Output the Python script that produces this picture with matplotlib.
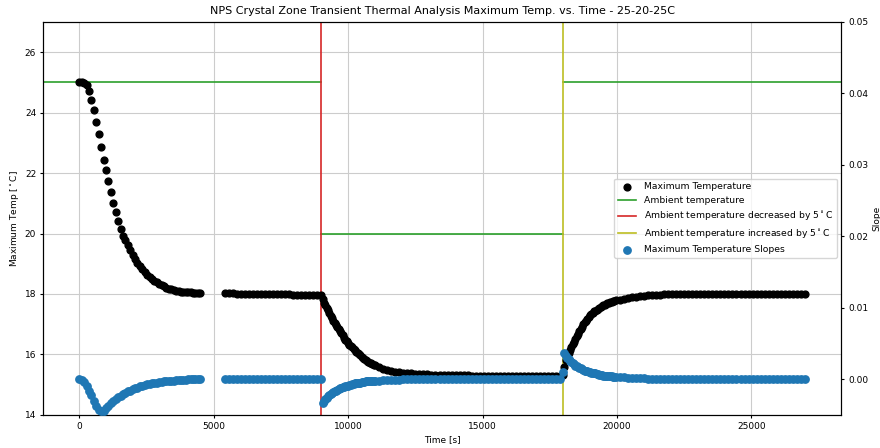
import numpy as np
import matplotlib
matplotlib.use("Agg")
import matplotlib.pyplot as plt

# time grids [s] for each stretch of the simulation output
t_a = np.arange(0, 4501, 90)
t_b1 = np.arange(5400, 9001, 150)
t_b2 = np.arange(9050, 11001, 50)
t_b3 = np.arange(11150, 17901, 150)
t_b4 = np.arange(18000, 19951, 50)
t_b5 = np.arange(20100, 27001, 150)

# maximum temperature [C]
temp_a = [25.00, 25.00, 24.99, 24.93, 24.71, 24.42, 24.08, 23.70, 23.29, 22.87,
          22.42, 22.10, 21.74, 21.37, 21.01, 20.71, 20.42, 20.15, 19.93, 19.77,
          19.62, 19.46, 19.30, 19.16, 19.03, 18.92, 18.82, 18.73, 18.64, 18.56,
          18.49, 18.43, 18.38, 18.33, 18.29, 18.25, 18.21, 18.18, 18.15, 18.13,
          18.11, 18.10, 18.08, 18.07, 18.06, 18.06, 18.05, 18.04, 18.04, 18.03,
          18.03]
temp_b1 = [18.02, 18.02, 18.02, 18.01, 18.01, 18.01, 18.01, 18.00, 18.00, 18.00,
           18.00, 18.00, 17.99, 17.99, 17.99, 17.99, 17.99, 17.98, 17.98, 17.98,
           17.98, 17.98, 17.98, 17.98, 17.98]
temp_b2 = [17.82, 17.71, 17.62, 17.55, 17.46, 17.38, 17.28, 17.20, 17.12, 17.05,
           16.97, 16.90, 16.83, 16.76, 16.70, 16.63, 16.55, 16.49, 16.43, 16.37,
           16.32, 16.27, 16.23, 16.18, 16.13, 16.09, 16.05, 16.01, 15.97, 15.93,
           15.89, 15.86, 15.82, 15.79, 15.76, 15.73, 15.71, 15.68, 15.66, 15.64]
temp_b3 = [15.57, 15.53, 15.49, 15.46, 15.43, 15.41, 15.39, 15.38, 15.37, 15.36,
           15.35, 15.34, 15.34, 15.33, 15.33, 15.32, 15.32, 15.32, 15.31, 15.31,
           15.31, 15.31, 15.31, 15.30, 15.30, 15.30, 15.30, 15.30, 15.30, 15.30,
           15.30, 15.30, 15.30, 15.30, 15.30, 15.30, 15.30, 15.30, 15.30, 15.30,
           15.30, 15.30, 15.30, 15.30, 15.30, 15.30]
temp_b4 = [15.33, 15.58, 15.80, 15.95, 16.06, 16.16, 16.24, 16.33, 16.42, 16.51,
           16.60, 16.68, 16.76, 16.83, 16.91, 16.99, 17.06, 17.12, 17.18, 17.24,
           17.29, 17.33, 17.38, 17.42, 17.45, 17.48, 17.51, 17.54, 17.57, 17.60,
           17.63, 17.65, 17.67, 17.69, 17.71, 17.73, 17.75, 17.76, 17.78, 17.79]
temp_b5 = [17.81, 17.84, 17.87, 17.89, 17.91, 17.93, 17.94, 17.96, 17.97, 17.98,
           17.98, 17.99, 17.99, 18.00, 18.00, 18.00, 18.01, 18.01, 18.01, 18.01,
           18.01, 18.01, 18.01, 18.01, 18.01, 18.01, 18.01, 18.01, 18.01, 18.01,
           18.01, 18.01, 18.01, 18.01, 18.01, 18.01, 18.01, 18.01, 18.01, 18.01,
           18.01, 18.01, 18.01, 18.01, 18.01, 18.01, 18.01]

# slope of the maximum temperature [C/s]
slope_a = [0.0, -0.0001, -0.0004, -0.0010, -0.0016, -0.0022, -0.0031, -0.0038, -0.0043, -0.0045,
           -0.0044, -0.0041, -0.0038, -0.0034, -0.0031, -0.0028, -0.0025, -0.0023, -0.0021, -0.0019,
           -0.0017, -0.0016, -0.0014, -0.0013, -0.0012, -0.0010, -0.0009, -0.0008, -0.0007, -0.0007,
           -0.0006, -0.0005, -0.0005, -0.0004, -0.0004, -0.0003, -0.0003, -0.0002, -0.0002, -0.0002,
           -0.0001, -0.0001, -0.0001, -0.0001, -0.0001, 0.0, 0.0, 0.0, 0.0, 0.0,
           0.0]
slope_b1 = [0.0, 0.0, 0.0, 0.0, 0.0, 0.0, 0.0, 0.0, 0.0, 0.0,
            0.0, 0.0, 0.0, 0.0, 0.0, 0.0, 0.0, 0.0, 0.0, 0.0,
            0.0, 0.0, 0.0, 0.0, 0.0]
slope_b2 = [-0.0034, -0.0031, -0.0028, -0.0026, -0.0024, -0.0022, -0.0021, -0.0019, -0.0018, -0.0017,
            -0.0016, -0.0015, -0.0014, -0.0013, -0.0012, -0.0011, -0.0011, -0.0010, -0.0009, -0.0009,
            -0.0008, -0.0008, -0.0007, -0.0007, -0.0006, -0.0006, -0.0005, -0.0005, -0.0005, -0.0004,
            -0.0004, -0.0004, -0.0003, -0.0003, -0.0003, -0.0003, -0.0002, -0.0002, -0.0002, -0.0002]
slope_b3 = [-0.0002, -0.00016, -0.00013, -0.0001, -0.00008, -0.00006, -0.00005, -0.00004, -0.00003, -0.00003,
            -0.00002, -0.00002, -0.00001, 0.0, 0.0, 0.0, 0.0, 0.0, 0.0, 0.0,
            0.0, 0.0, 0.0, 0.0, 0.0, 0.0, 0.0, 0.0, 0.0, 0.0,
            0.0, 0.0, 0.0, 0.0, 0.0, 0.0, 0.0, 0.0, 0.0, 0.0,
            0.0, 0.0, 0.0, 0.0, 0.0, 0.0]
slope_b4 = [0.0010, 0.0036, 0.0033, 0.0030, 0.0028, 0.0026, 0.0024, 0.0022, 0.0021, 0.0019,
            0.0018, 0.0017, 0.0016, 0.0015, 0.0014, 0.0013, 0.0012, 0.0012, 0.0011, 0.0010,
            0.0010, 0.0009, 0.0009, 0.0008, 0.0008, 0.0007, 0.0007, 0.0006, 0.0006, 0.0006,
            0.0005, 0.0005, 0.0005, 0.0004, 0.0004, 0.0004, 0.0004, 0.0003, 0.0003, 0.0003]
slope_b5 = [0.0003, 0.00025, 0.0002, 0.00017, 0.00014, 0.00012, 0.0001, 0.00008, 0.00007, 0.00006,
            0.00005, 0.00004, 0.00003, 0.00003, 0.00002, 0.00002, 0.00001, 0.00001, 0.0, 0.0,
            0.0, 0.0, 0.0, 0.0, 0.0, 0.0, 0.0, 0.0, 0.0, 0.0,
            0.0, 0.0, 0.0, 0.0, 0.0, 0.0, 0.0, 0.0, 0.0, 0.0,
            0.0, 0.0, 0.0, 0.0, 0.0, 0.0, 0.0]

# ambient schedule
t_decrease = 9000
t_increase = 18000
ambient_high = 25
ambient_low = 20

time = np.concatenate([t_a, t_b1, t_b2, t_b3, t_b4, t_b5])
temp = np.concatenate([temp_a, temp_b1, temp_b2, temp_b3, temp_b4, temp_b5])
slope = np.concatenate([slope_a, slope_b1, slope_b2, slope_b3, slope_b4, slope_b5])

plt.rcParams['font.size'] = 6.5
plt.rcParams['xtick.major.size'] = 2.5
plt.rcParams['ytick.major.size'] = 2.5
plt.rcParams['xtick.major.pad'] = 2.5
plt.rcParams['ytick.major.pad'] = 2.5
plt.rcParams['axes.labelpad'] = 3

fig = plt.figure(figsize=(8.8, 4.48), dpi=100)
ax = fig.add_axes([0.049, 0.074, 0.907, 0.877])
ax2 = ax.twinx()

h1 = ax.scatter(time, temp, s=24, color='black', label='Maximum Temperature', zorder=3)
ax.set_xlim(-1350, 28350)
ax.set_ylim(14, 27)

# ambient temperature pieces, drawn across the axis limits
x0, x1 = ax.get_xlim()
span = x1 - x0
h2 = ax.axhline(ambient_high, xmin=0, xmax=(t_decrease - x0) / span, color='tab:green', lw=1.2,
                label='Ambient temperature')
ax.axhline(ambient_low, xmin=(t_decrease - x0) / span, xmax=(t_increase - x0) / span,
           color='tab:green', lw=1.2)
ax.axhline(ambient_high, xmin=(t_increase - x0) / span, xmax=1, color='tab:green', lw=1.2)
h3 = ax.axvline(t_decrease, color='tab:red', lw=1.2,
                label='Ambient temperature decreased by 5$^\\circ$C')
h4 = ax.axvline(t_increase, color='tab:olive', lw=1.2,
                label='Ambient temperature increased by 5$^\\circ$C')

h5 = ax2.scatter(time, slope, s=28, color='tab:blue', label='Maximum Temperature Slopes', zorder=3)
ax2.set_ylim(-0.005, 0.05)
ax2.set_yticks([0.0, 0.01, 0.02, 0.03, 0.04, 0.05])

ax.set_yticks([14, 16, 18, 20, 22, 24, 26])
ax.set_xticks([0, 5000, 10000, 15000, 20000, 25000])
ax.grid(True, color='#cccccc', lw=0.8)
ax.set_axisbelow(True)

ax.set_xlabel('Time [s]')
ax.set_ylabel('Maximum Temp [$^\\circ$C]')
ax2.set_ylabel('Slope')
ax.set_title('NPS Crystal Zone Transient Thermal Analysis Maximum Temp. vs. Time - 25-20-25C', fontsize=8)

ax2.legend([h1, h2, h3, h4, h5], [h.get_label() for h in [h1, h2, h3, h4, h5]],
           loc='center right', fontsize=6.7)

fig.savefig('out.png', dpi=100)
